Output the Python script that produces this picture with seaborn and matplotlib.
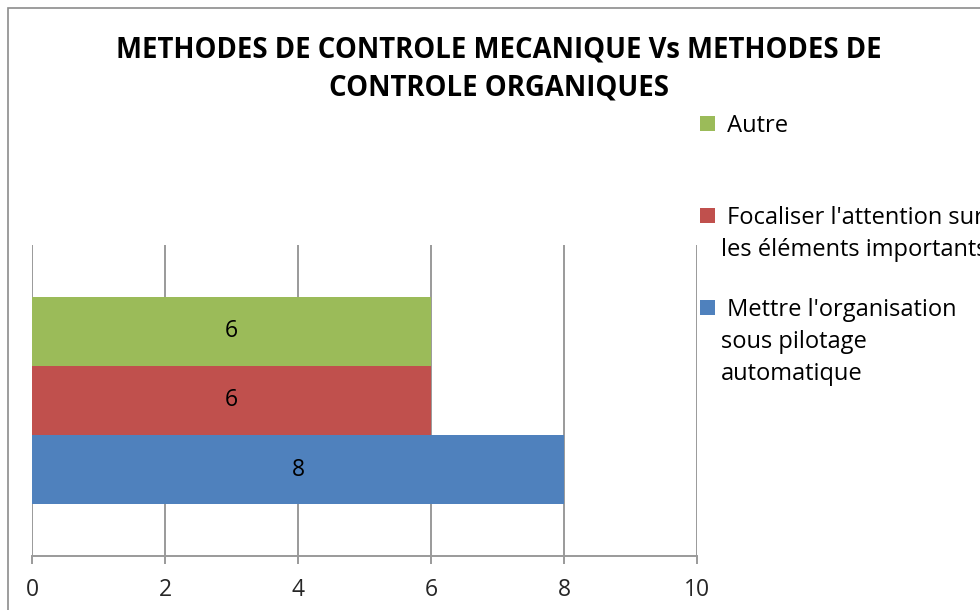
import numpy as np
import pandas as pd
import matplotlib
matplotlib.use("Agg")
import matplotlib.pyplot as plt
from matplotlib.patches import Rectangle
import seaborn as sns

sns.set_style("white")
plt.rcParams['font.family'] = ['Open Sans', 'DejaVu Sans']

# data
series = ["Autre",
          "Focaliser l'attention sur\nles éléments importants",
          "Mettre l'organisation\nsous pilotage\nautomatique"]
values = [6, 6, 8]
colors = ["#9BBB59", "#C0504D", "#4F81BD"]
title_lines = ["METHODES DE CONTROLE MECANIQUE Vs METHODES DE",
               "CONTROLE ORGANIQUES"]
xticks = [0, 2, 4, 6, 8, 10]

df = pd.DataFrame({"cat": [""] * len(series), "serie": series, "val": values})

W, H = 980, 610
fig = plt.figure(figsize=(W / 100, H / 100), dpi=100)
# plot area in pixels: left 32, right 697, top 245, bottom 556
ax = fig.add_axes([32 / W, 1 - 556 / H, (697 - 32) / W, (556 - 245) / H])

grid_col = "#9a9a9a"
sns.barplot(data=df, x="val", y="cat", hue="serie", hue_order=series,
            palette=colors, orient="h", width=2 / 3, saturation=1,
            linewidth=0, legend=False, ax=ax)

for cont in ax.containers:
    ax.bar_label(cont, label_type="center", fontsize=16.5, color="black")

ax.set_xlim(0, 10)
ax.set_xticks(xticks)
ax.set_xticklabels([str(t) for t in xticks], fontsize=16.5)
ax.set_yticks([])
ax.set_xlabel("")
ax.set_ylabel("")
ax.grid(axis="x", color=grid_col, linewidth=1.4)
ax.set_axisbelow(True)
for s in ["top", "right", "left"]:
    ax.spines[s].set_visible(False)
ax.spines["bottom"].set_color(grid_col)
ax.spines["bottom"].set_linewidth(1.4)
ax.tick_params(axis="x", direction="out", length=6, width=1.4,
               color=grid_col, pad=10, bottom=True)

# title
for i, line in enumerate(title_lines):
    fig.text(499 / W, 1 - (58 + 38 * i) / H, line, ha="center", va="baseline",
             fontsize=19.8, fontweight="bold", color="black")

# legend (excel style, one slot per series, square next to first line)
slot_top = [116, 208, 300]
for k, (lab, col) in enumerate(zip(series, colors)):
    y0 = slot_top[k]
    fig.add_artist(Rectangle((700 / W, 1 - (y0 + 15) / H), 15 / W, 15 / H,
                             transform=fig.transFigure, color=col, lw=0))
    for j, line in enumerate(lab.split("\n")):
        txt = " " + line if j == 0 else line
        fig.text(721 / W, 1 - (y0 + 16 + 32 * j) / H, txt, ha="left",
                 va="baseline", fontsize=17, color="black")

# chart area border
fig.add_artist(Rectangle((7.5 / W, -0.5), 2.0, 0.5 + (1 - 8 / H),
                         transform=fig.transFigure, fill=False,
                         edgecolor="#8c8c8c", linewidth=1.2))

fig.savefig("out.png", dpi=100)
